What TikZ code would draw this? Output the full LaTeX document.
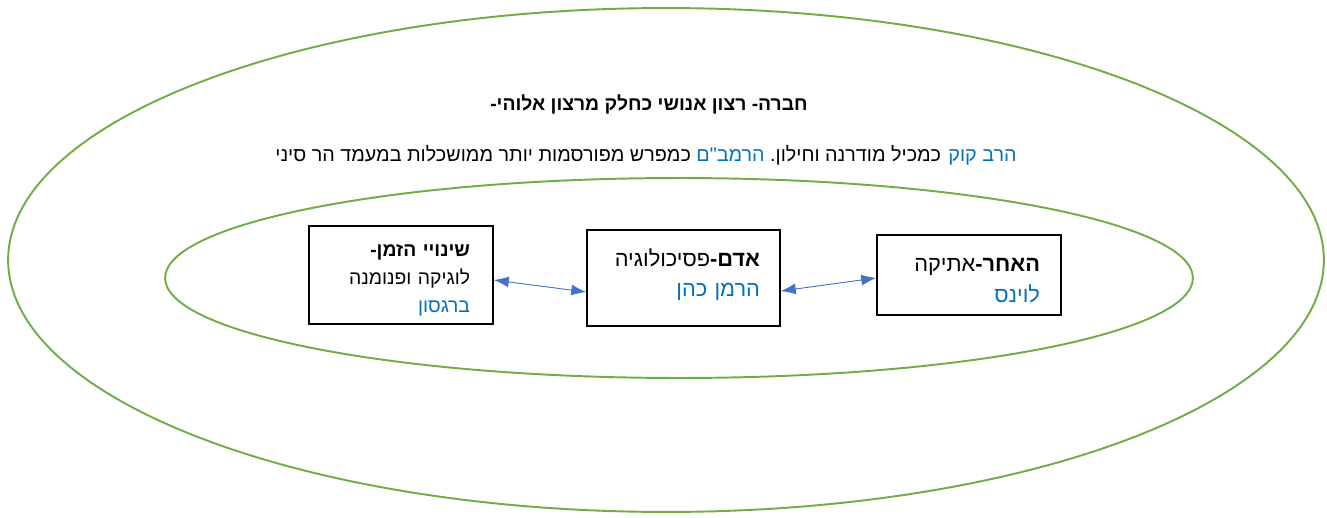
\documentclass[tikz,border=0pt]{standalone}
\usepackage{fontspec}
\setmainfont[Script=Hebrew,Ligatures=TeXOff]{Liberation Sans}
\TeXXeTstate=1
\usetikzlibrary{shapes.geometric,arrows.meta}
\definecolor{ringgreen}{HTML}{70AD47}
\definecolor{arrblue}{HTML}{4472C4}
\definecolor{txtblue}{HTML}{0070C0}
\tikzset{
  ring/.style={
    draw=ringgreen, ellipse, line width=1.1pt, inner sep=0mm
  },
  rect/.style={
    draw, rectangle, line width=0.9pt, align=right, inner xsep=0.42cm, font=\fontsize{11}{15.9}\selectfont
  },
  dblarrow/.style={
    {Latex[length=0.3cm,width=0.22cm]}-{Latex[length=0.3cm,width=0.22cm]}, draw=arrblue, fill=arrblue, line width=0.5pt
  }
}
\newcommand{\bl}[1]{\leavevmode\hbox{\textcolor{txtblue}{\beginR #1\endR}}}
\newcommand{\rl}[1]{\beginR #1\endR}

\begin{document}
\begin{tikzpicture}[x=0.02cm, y=-0.02cm]
   \useasboundingbox (0,0) rectangle (1327,517);
   \node[ring, minimum width=26.32cm, minimum height=10.08cm] (outer) at (666,260) {};
   \node[ring, minimum width=20.56cm, minimum height=4cm] (inner) at (679,278) {};

   \node[font=\bfseries\fontsize{11}{13}\selectfont] (title) at (649,104) {\rl{חברה- רצון אנושי כחלק מרצון אלוהי-}};
   \node[font=\fontsize{11.25}{13}\selectfont] (sub) at (646,155) {\rl{כמפרש מפורסמות יותר ממושכלות במעמד הר סיני} \bl{הרמב"ם} \rl{כמכיל מודרנה וחילון.} \bl{הרב קוק}};

   \node[rect, minimum width=3.68cm, minimum height=1.96cm, text width=2.76cm] (lbox) at (401,275)
     {\rule{0pt}{12.9pt}\rl{\textbf{שינויי הזמן-}}\\ \rl{לוגיקה ופנומנה}\\ \bl{ברגסון}};
   \node[rect, minimum width=3.86cm, minimum height=1.92cm, text width=3.06cm, inner xsep=0.4cm, font=\fontsize{12.4}{17}\selectfont] (mbox) at (683.5,278)
     {\rl{\textbf{אדם-}פסיכולוגיה}\\ \bl{הרמן כהן}\rule[-6pt]{0pt}{6pt}};
   \node[rect, minimum width=3.68cm, minimum height=1.6cm, text width=2.84cm, font=\fontsize{12.4}{17.5}\selectfont] (rbox) at (969,275)
     {\rule{0pt}{14pt}\rl{\textbf{האחר-}אתיקה}\\ \bl{לוינס}};

   \draw[dblarrow] ([yshift=-0.1cm]lbox.east) -- ([yshift=-0.28cm]mbox.west);
   \draw[dblarrow] ([yshift=-0.26cm]mbox.east) -- ([yshift=-0.06cm]rbox.west);
\end{tikzpicture}
\end{document}
